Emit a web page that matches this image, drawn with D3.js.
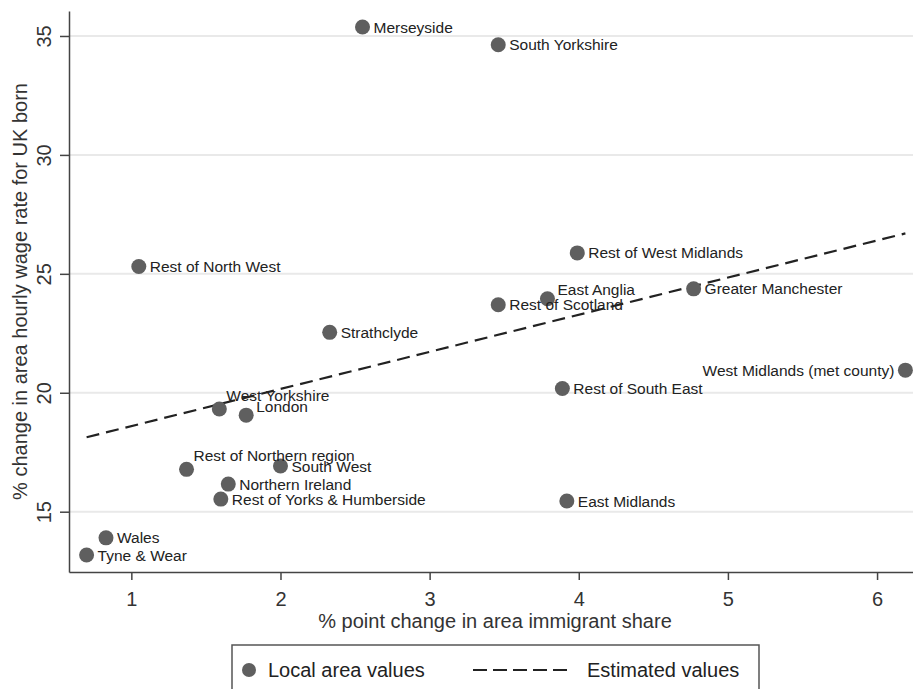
<!doctype html>
<html>
<head>
<meta charset="utf-8">
<title>Wage change vs immigrant share</title>
<script src="https://d3js.org/d3.v7.min.js"></script>
<style>
  body { margin: 0; background: #fff; }
  svg { display: block; font-family: "Liberation Sans", Arial, sans-serif; }
  .axis path, .axis line { stroke: #444; stroke-width: 1.5; }
  .axis text { fill: #333; font-size: 20px; }
  .grid line { stroke: #e9e9e9; stroke-width: 2; }
</style>
</head>
<body>
<script>

var areas = ["Merseyside", "South Yorkshire", "Rest of West Midlands", "Rest of North West",
  "Greater Manchester", "East Anglia", "Rest of Scotland", "Strathclyde",
  "West Midlands (met county)", "Rest of South East", "West Yorkshire", "London",
  "South West", "Rest of Northern region", "Northern Ireland", "Rest of Yorks & Humberside",
  "East Midlands", "Wales", "Tyne & Wear"];
var immigrantChange = [2.55, 3.46, 3.99, 1.05, 4.77, 3.79, 3.46, 2.33, 6.19, 3.89, 1.59, 1.77,
  2.00, 1.37, 1.65, 1.60, 3.92, 0.83, 0.70];
var wageChange = [35.38, 34.63, 25.88, 25.31, 24.37, 23.95, 23.70, 22.54, 20.95, 20.18, 19.32, 19.06,
  16.92, 16.78, 16.16, 15.53, 15.45, 13.90, 13.18];
// stata style clock position of each marker label
var labelClock = [3, 3, 3, 3, 3, 2, 3, 3, 9, 3, 1, 2, 3, 1, 3, 3, 3, 3, 3];

var fitX = [0.70, 6.19];
var fitY = [18.13, 26.70];

var xTicks = [1, 2, 3, 4, 5, 6];
var yTicks = [15, 20, 25, 30, 35];

var width = 913, height = 689;
var plot = {left: 69, right: 913, top: 11, bottom: 572};

var svg = d3.select("body").append("svg").attr("width", width).attr("height", height);

var x = d3.scaleLinear().domain([0.582, 6.241]).range([plot.left, plot.right]);
var y = d3.scaleLinear().domain([12.465, 36.05]).range([plot.bottom, plot.top]);

// gridlines
svg.append("g").attr("class", "grid")
  .selectAll("line").data(yTicks).enter().append("line")
  .attr("x1", plot.left).attr("x2", plot.right)
  .attr("y1", function(d) { return y(d); }).attr("y2", function(d) { return y(d); });

// axes
var xaxis = d3.axisBottom(x).tickValues(xTicks).tickFormat(d3.format("d"))
  .tickSize(8).tickPadding(12).tickSizeOuter(0);
svg.append("g").attr("class", "axis")
  .attr("transform", "translate(0," + plot.bottom + ")")
  .call(xaxis);

var yaxis = d3.axisLeft(y).tickValues(yTicks).tickFormat(d3.format("d"))
  .tickSize(9).tickSizeOuter(0);
svg.append("g").attr("class", "axis")
  .attr("transform", "translate(" + plot.left + ",0)")
  .call(yaxis)
  .selectAll(".tick text")
  .attr("transform", "rotate(-90)")
  .attr("x", 0).attr("y", -18).attr("dy", 0)
  .style("text-anchor", "middle");

svg.append("text")
  .attr("x", 495).attr("y", 628)
  .attr("text-anchor", "middle")
  .style("font-size", "20px").style("fill", "#333")
  .text("% point change in area immigrant share");

svg.append("text")
  .attr("transform", "translate(27," + ((plot.top + plot.bottom) / 2) + ") rotate(-90)")
  .attr("text-anchor", "middle")
  .style("font-size", "20px").style("fill", "#333")
  .text("% change in area hourly wage rate for UK born");

// fitted line
var line = d3.line().x(function(d) { return x(d[0]); }).y(function(d) { return y(d[1]); });
svg.append("path")
  .datum(d3.zip(fitX, fitY))
  .attr("d", line)
  .attr("fill", "none").attr("stroke", "#222").attr("stroke-width", 2.2)
  .attr("stroke-dasharray", "13,7");

// points
var data = areas.map(function(a, i) {
  return {name: a, x: immigrantChange[i], y: wageChange[i], clock: labelClock[i]};
});

svg.append("g").selectAll("circle").data(data).enter().append("circle")
  .attr("cx", function(d) { return x(d.x); })
  .attr("cy", function(d) { return y(d.y); })
  .attr("r", 7.5)
  .attr("fill", "#5f5f5f");

var offsets = {1: [7, -14, "start"], 2: [10, -9, "start"], 3: [11, 0, "start"], 9: [-11, 0, "end"]};

svg.append("g").selectAll("text").data(data).enter().append("text")
  .attr("x", function(d) { return x(d.x) + offsets[d.clock][0]; })
  .attr("y", function(d) { return y(d.y) + offsets[d.clock][1]; })
  .attr("dy", "0.36em")
  .attr("text-anchor", function(d) { return offsets[d.clock][2]; })
  .style("font-size", "15.5px").style("fill", "#222")
  .text(function(d) { return d.name; });

// legend
var legend = svg.append("g");
legend.append("rect")
  .attr("x", 232).attr("y", 645).attr("width", 527).attr("height", 70)
  .attr("fill", "#fff").attr("stroke", "#555").attr("stroke-width", 1.5);
legend.append("circle").attr("cx", 249).attr("cy", 670).attr("r", 7).attr("fill", "#5f5f5f");
legend.append("text").attr("x", 268).attr("y", 677)
  .style("font-size", "20px").style("fill", "#222").text("Local area values");
legend.append("line").attr("x1", 473).attr("x2", 571).attr("y1", 670).attr("y2", 670)
  .attr("stroke", "#222").attr("stroke-width", 2.2).attr("stroke-dasharray", "14,6");
legend.append("text").attr("x", 587).attr("y", 677)
  .style("font-size", "20px").style("fill", "#222").text("Estimated values");

</script>
</body>
</html>
